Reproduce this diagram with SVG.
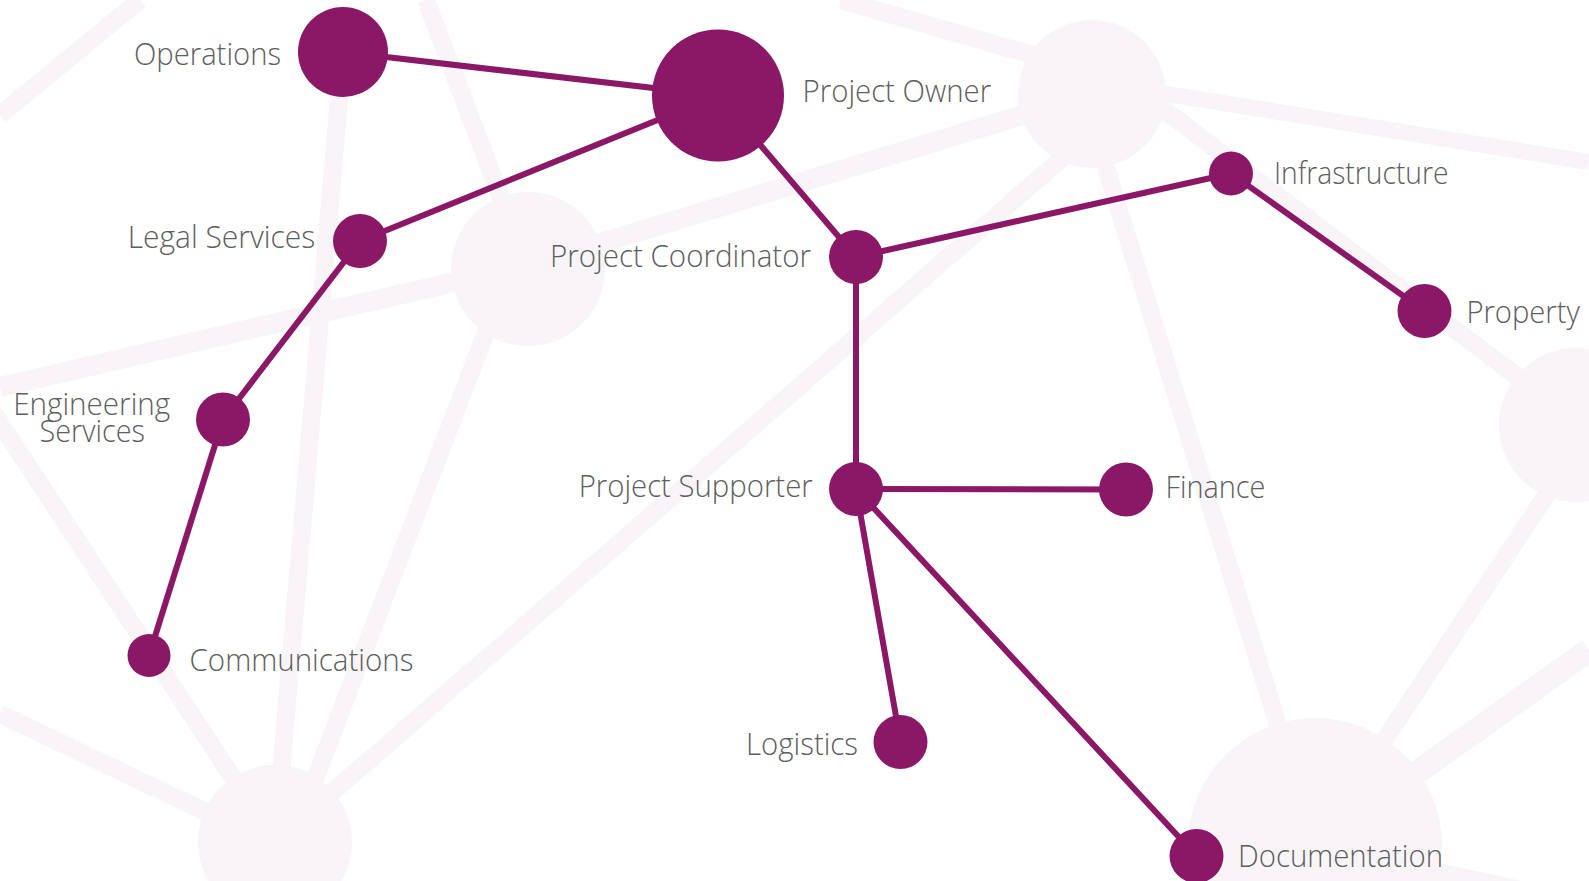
<svg xmlns="http://www.w3.org/2000/svg" width="1589" height="881" viewBox="0 0 1589 881">
<style>
.bg{stroke:#F8F4F8;stroke-width:18;fill:none;stroke-linecap:butt}
.bgc{fill:#F8F4F8}
.edge{stroke:#8A1866;stroke-width:6;fill:none}
.node{fill:#8A1866}
.lbl{font-family:"Open Sans","Noto Sans","Liberation Sans",sans-serif;font-weight:300;font-size:31px;fill:#5E5E5E}
</style>
<rect width="1589" height="881" fill="#FFFFFF"/>
<g id="background">
<line class="bg" x1="0" y1="115" x2="140" y2="0"/>
<line class="bg" x1="275" y1="842" x2="343" y2="52"/>
<line class="bg" x1="426" y1="0" x2="528" y2="269"/>
<line class="bg" x1="511" y1="267" x2="291" y2="842"/>
<line class="bg" x1="0" y1="387" x2="528" y2="265" style="stroke-width:20"/>
<line class="bg" x1="528" y1="265" x2="1092" y2="94" style="stroke-width:20"/>
<line class="bg" x1="-15" y1="400" x2="275" y2="842"/>
<line class="bg" x1="0" y1="714" x2="275" y2="845"/>
<line class="bg" x1="275" y1="842" x2="1075" y2="147"/>
<line class="bg" x1="841" y1="0" x2="1092" y2="72"/>
<line class="bg" x1="1092" y1="82" x2="1589" y2="162" style="stroke-width:16"/>
<line class="bg" x1="1110" y1="69" x2="1576" y2="421"/>
<line class="bg" x1="1083" y1="93" x2="1315" y2="845"/>
<line class="bg" x1="1592" y1="426" x2="1315" y2="845"/>
<line class="bg" x1="1589" y1="650" x2="1315" y2="845" style="stroke-width:24"/>
<line class="bg" x1="1315" y1="845" x2="1589" y2="905"/>
<circle class="bgc" cx="528" cy="269" r="77"/>
<circle class="bgc" cx="275" cy="842" r="77"/>
<circle class="bgc" cx="1092" cy="94" r="74"/>
<circle class="bgc" cx="1576" cy="425" r="77"/>
<circle class="bgc" cx="1315" cy="845" r="127"/>
</g>
<g id="connectors">
<line class="edge" x1="343" y1="52" x2="718" y2="95.5"/>
<line class="edge" x1="718" y1="95.5" x2="360" y2="241"/>
<line class="edge" x1="360" y1="241" x2="223" y2="419.5"/>
<line class="edge" x1="223" y1="419.5" x2="149" y2="655.5"/>
<line class="edge" x1="718" y1="95.5" x2="856" y2="257"/>
<line class="edge" x1="856" y1="257" x2="1231" y2="173.5"/>
<line class="edge" x1="1231" y1="173.5" x2="1424.5" y2="311"/>
<line class="edge" x1="856" y1="257" x2="856" y2="489"/>
<line class="edge" x1="856" y1="489" x2="1126" y2="489.5"/>
<line class="edge" x1="856" y1="489" x2="900.5" y2="742"/>
<line class="edge" x1="856" y1="489" x2="1196.5" y2="856"/>
</g>
<g id="operations"><circle class="node" cx="343" cy="52" r="45"/><text class="lbl" x="281" y="65" text-anchor="end" textLength="147" lengthAdjust="spacingAndGlyphs">Operations</text></g>
<g id="project-owner"><circle class="node" cx="718" cy="95.5" r="66"/><text class="lbl" x="802.6" y="102" textLength="188.5" lengthAdjust="spacingAndGlyphs">Project Owner</text></g>
<g id="legal-services"><circle class="node" cx="360" cy="241" r="27"/><text class="lbl" x="315.2" y="248" text-anchor="end" textLength="187.5" lengthAdjust="spacingAndGlyphs">Legal Services</text></g>
<g id="engineering-services"><circle class="node" cx="223" cy="419.5" r="27"/><text class="lbl" x="91.7" y="415" text-anchor="middle" textLength="157" lengthAdjust="spacingAndGlyphs">Engineering</text><text class="lbl" x="92.2" y="442" text-anchor="middle" textLength="105.5" lengthAdjust="spacingAndGlyphs">Services</text></g>
<g id="communications"><circle class="node" cx="149" cy="655.5" r="21.5"/><text class="lbl" x="189.5" y="671" textLength="224" lengthAdjust="spacingAndGlyphs">Communications</text></g>
<g id="project-coordinator"><circle class="node" cx="856" cy="257" r="27"/><text class="lbl" x="811" y="267" text-anchor="end" textLength="261" lengthAdjust="spacingAndGlyphs">Project Coordinator</text></g>
<g id="infrastructure"><circle class="node" cx="1231" cy="173.5" r="22"/><text class="lbl" x="1274" y="184" textLength="174.5" lengthAdjust="spacingAndGlyphs">Infrastructure</text></g>
<g id="property"><circle class="node" cx="1424.5" cy="311" r="27"/><text class="lbl" x="1466.4" y="323" textLength="113.5" lengthAdjust="spacingAndGlyphs">Property</text></g>
<g id="project-supporter"><circle class="node" cx="856" cy="489" r="27"/><text class="lbl" x="812.7" y="497" text-anchor="end" textLength="234" lengthAdjust="spacingAndGlyphs">Project Supporter</text></g>
<g id="finance"><circle class="node" cx="1126" cy="489.5" r="27"/><text class="lbl" x="1165.4" y="498" textLength="100" lengthAdjust="spacingAndGlyphs">Finance</text></g>
<g id="logistics"><circle class="node" cx="900.5" cy="742" r="27"/><text class="lbl" x="858" y="755" text-anchor="end" textLength="112" lengthAdjust="spacingAndGlyphs">Logistics</text></g>
<g id="documentation"><circle class="node" cx="1196.5" cy="856" r="27"/><text class="lbl" x="1238" y="867" textLength="205" lengthAdjust="spacingAndGlyphs">Documentation</text></g>
</svg>
